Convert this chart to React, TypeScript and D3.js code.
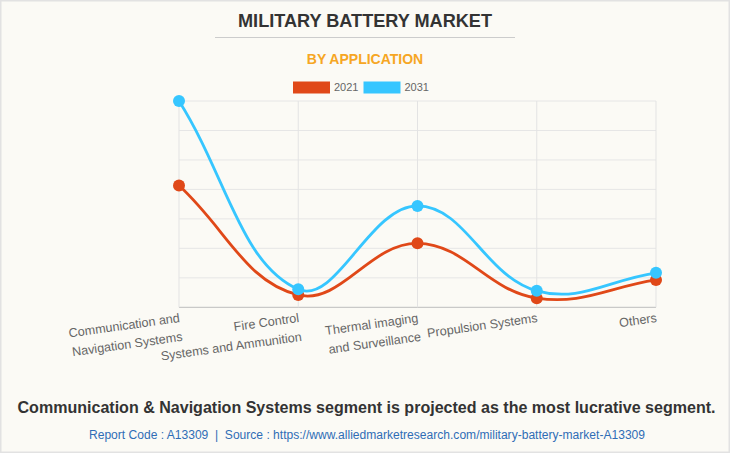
import React from "react";
import * as d3 from "d3";

const categories: string[][] = [
  ["Communication and", "Navigation Systems"],
  ["Fire Control", "Systems and Ammunition"],
  ["Thermal imaging", "and Surveillance"],
  ["Propulsion Systems"],
  ["Others"],
];
const seriesNames = ["2021", "2031"];
const values2021 = [826, 84, 434, 62, 186];
const values2031 = [1400, 122, 688, 112, 234];
const yTicks = [0, 200, 400, 600, 800, 1000, 1200, 1400];
const colors = ["#E04818", "#36C6FF"];

const W = 730;
const H = 453;
const left = 179;
const right = 656;
const top = 101;
const bottom = 307.3;
const FONT = "'Liberation Sans', Arial, Helvetica, sans-serif";

type P = [number, number];

function chartSpline(pts: P[], t: number): string {
  const n = pts.length;
  const cps: { prev: P; next: P }[] = pts.map((c, i) => {
    const p = i > 0 ? pts[i - 1] : c;
    const nx = i < n - 1 ? pts[i + 1] : c;
    const d01 = Math.hypot(c[0] - p[0], c[1] - p[1]);
    const d12 = Math.hypot(nx[0] - c[0], nx[1] - c[1]);
    let s01 = d01 / (d01 + d12);
    let s12 = d12 / (d01 + d12);
    if (isNaN(s01)) s01 = 0;
    if (isNaN(s12)) s12 = 0;
    const fa = t * s01;
    const fb = t * s12;
    return {
      prev: [c[0] - fa * (nx[0] - p[0]), c[1] - fa * (nx[1] - p[1])],
      next: [c[0] + fb * (nx[0] - p[0]), c[1] + fb * (nx[1] - p[1])],
    };
  });
  const path = d3.path();
  path.moveTo(pts[0][0], pts[0][1]);
  for (let i = 1; i < n; i++) {
    const a = cps[i - 1].next;
    const b = cps[i].prev;
    path.bezierCurveTo(a[0], a[1], b[0], b[1], pts[i][0], pts[i][1]);
  }
  return path.toString();
}

export default function App() {
  const x = d3
    .scalePoint<number>()
    .domain(d3.range(categories.length))
    .range([left, right]);
  const y = d3.scaleLinear().domain([0, 1400]).range([bottom, top]);
  const series = [values2021, values2031];

  return (
    <svg
      width={W}
      height={H}
      style={{ position: "absolute", left: 0, top: 0, display: "block" }}
    >
      <rect x={0} y={0} width={W} height={H} fill="#FBFAF5" />
      <rect
        x={0.75}
        y={0.75}
        width={W - 1.5}
        height={H - 1.5}
        fill="none"
        stroke="#E2E2E2"
        strokeWidth={1.5}
      />
      <text
        x={365}
        y={27.3}
        textAnchor="middle"
        fontFamily={FONT}
        fontWeight="bold"
        fontSize={18}
        textLength={254}
        lengthAdjust="spacingAndGlyphs"
        fill="#333333"
      >
        MILITARY BATTERY MARKET
      </text>
      <line x1={215} x2={515} y1={37.5} y2={37.5} stroke="#CCCCCC" strokeWidth={1} />
      <text
        x={365}
        y={64}
        textAnchor="middle"
        fontFamily={FONT}
        fontWeight="bold"
        fontSize={14}
        fill="#F6A623"
      >
        BY APPLICATION
      </text>
      {seriesNames.map((s, i) => (
        <g key={s} transform={`translate(${293 + i * 70.5},0)`}>
          <rect x={0} y={81.5} width={37} height={12} fill={colors[i]} />
          <text x={41} y={91} fontFamily={FONT} fontSize={11} fill="#666666">
            {s}
          </text>
        </g>
      ))}
      {yTicks.map((t) => (
        <line
          key={"h" + t}
          x1={left}
          x2={right}
          y1={y(t)}
          y2={y(t)}
          stroke={t === 0 ? "#BDBDBD" : "#E6E6E6"}
          strokeWidth={1}
        />
      ))}
      {categories.map((_, i) => (
        <line
          key={"v" + i}
          x1={x(i)!}
          x2={x(i)!}
          y1={top}
          y2={bottom}
          stroke="#E3E3E3"
          strokeWidth={1}
        />
      ))}
      {categories.map((lines, i) => (
        <g key={"l" + i} transform={`translate(${x(i)!},313) rotate(-8)`}>
          {lines.map((ln, j) => (
            <text
              key={j}
              x={0}
              y={9 + j * 19}
              textAnchor="end"
              fontFamily={FONT}
              fontSize={12.6}
              fill="#666666"
            >
              {ln}
            </text>
          ))}
        </g>
      ))}
      {series.map((vals, si) => {
        const pts: P[] = vals.map((v, i) => [x(i)!, y(v)]);
        return (
          <g key={"s" + si}>
            <path
              d={chartSpline(pts, 0.4)}
              fill="none"
              stroke={colors[si]}
              strokeWidth={2.8}
            />
            {pts.map((p, i) => (
              <circle key={i} cx={p[0]} cy={p[1]} r={6} fill={colors[si]} />
            ))}
          </g>
        );
      })}
      <text
        x={366.5}
        y={413.3}
        textAnchor="middle"
        fontFamily={FONT}
        fontWeight="bold"
        fontSize={16}
        textLength={698}
        lengthAdjust="spacingAndGlyphs"
        fill="#333333"
      >
        Communication &amp; Navigation Systems segment is projected as the most lucrative segment.
      </text>
      <text
        x={367}
        y={438.7}
        textAnchor="middle"
        fontFamily={FONT}
        fontSize={12}
        textLength={556}
        lengthAdjust="spacingAndGlyphs"
        fill="#2F6DB5"
        style={{ whiteSpace: "pre" }}
      >
        {"Report Code : A13309  |  Source : https://www.alliedmarketresearch.com/military-battery-market-A13309"}
      </text>
    </svg>
  );
}
